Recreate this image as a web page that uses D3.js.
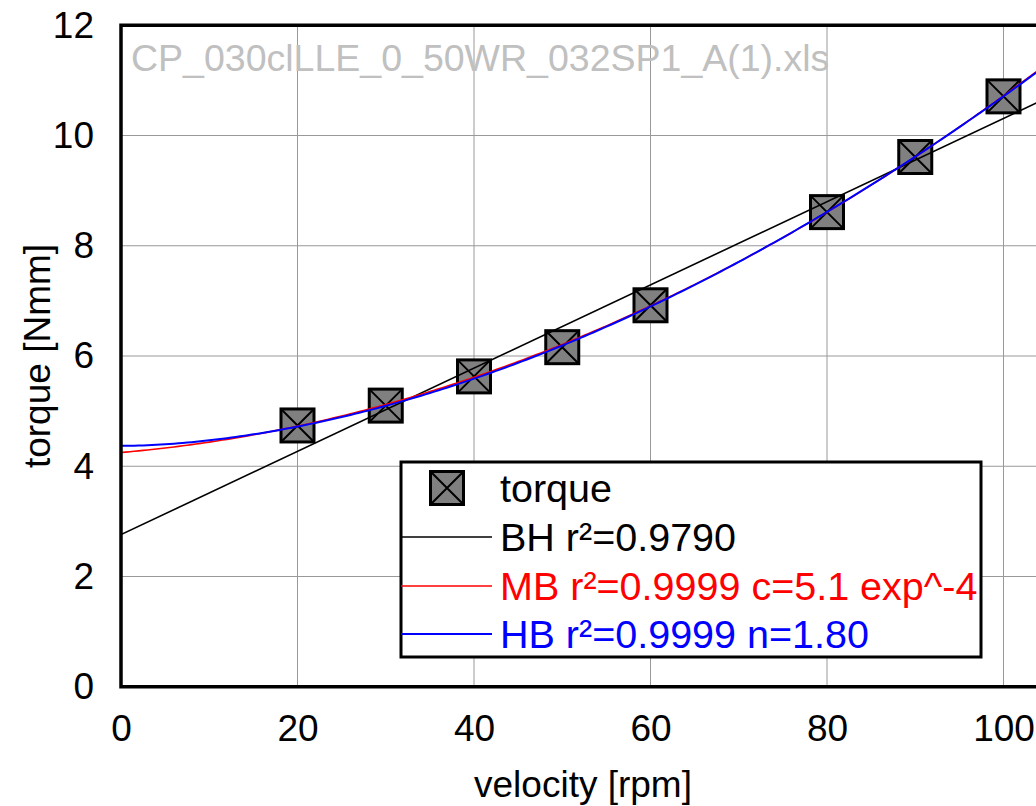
<!DOCTYPE html>
<html>
<head>
<meta charset="utf-8">
<script src="https://cdn.jsdelivr.net/npm/d3@7"></script>
<style>
  body { margin: 0; background: #fff; }
  svg { display: block; }
  text { font-family: "Liberation Sans", Arial, sans-serif; }
</style>
</head>
<body>
<svg id="chart" width="1036" height="806"></svg>
<script>
// measured torque against spindle velocity
const velocity = [20, 30, 40, 50, 60, 80, 90, 100];
const torque = [4.74, 5.10, 5.63, 6.16, 6.92, 8.61, 9.61, 10.71];

const xTicks = [0, 20, 40, 60, 80, 100];
const yTicks = [0, 2, 4, 6, 8, 10, 12];

const fileName = "CP_030clLLE_0_50WR_032SP1_A(1).xls";
const xTitle = "velocity [rpm]";
const yTitle = "torque [Nmm]";
const legendLabels = ["torque", "BH r²=0.9790", "MB r²=0.9999 c=5.1 exp^-4", "HB r²=0.9999 n=1.80"];
const legendColors = ["#000", "#000", "#ff0000", "#0000ff"];

// rheological fit parameters
const binghamFit = { tau0: 2.76, mu: 0.0755 };                 // Bingham: tau0 + mu*v
const modBinghamFit = { tau0: 4.25, mu: 0.0137, c: 5.1e-4 };   // modified Bingham: tau0 + mu*v + c*v^2
const herschelFit = { tau0: 4.37, k: 0.001593, n: 1.80 };      // Herschel-Bulkley: tau0 + k*v^n

const svg = d3.select("#chart");
const FONT = 37;
const LEGEND_FONT = 39.5;

const x = d3.scaleLinear().domain([0, 110]).range([121, 121 + 8.825 * 110]);
const y = d3.scaleLinear().domain([0, 12]).range([686.75, 686.75 - 55.125 * 12]);

const [x0, x1] = x.range();
const [yb, yt] = y.range();

svg.append("defs").append("clipPath").attr("id", "plotClip")
  .append("rect").attr("x", x0).attr("y", yt).attr("width", x1 - x0).attr("height", yb - yt);

// grid
const grid = svg.append("g").attr("stroke", "#999").attr("stroke-width", 1);
grid.selectAll("line.vx").data(xTicks.filter(d => d > 0)).join("line")
  .attr("x1", d => x(d)).attr("x2", d => x(d)).attr("y1", yt).attr("y2", yb);
grid.selectAll("line.hy").data(yTicks.filter(d => d > 0 && d < 12)).join("line")
  .attr("x1", x0).attr("x2", x1).attr("y1", d => y(d)).attr("y2", d => y(d));

// file name
svg.append("text").attr("x", 131).attr("y", 71)
  .attr("font-size", 37.5).attr("fill", "#c0c0c0").text(fileName);

// axes labels (no tick marks)
const xAxis = svg.append("g").attr("transform", `translate(0,${yb})`)
  .call(d3.axisBottom(x).tickValues(xTicks).tickSize(0).tickPadding(28).tickFormat(d3.format("d")));
const yAxis = svg.append("g").attr("transform", `translate(${x0},0)`)
  .call(d3.axisLeft(y).tickValues(yTicks).tickSize(0).tickPadding(27).tickFormat(d3.format("d")));
[xAxis, yAxis].forEach(a => {
  a.select(".domain").remove();
  a.selectAll("text").attr("font-size", FONT).attr("fill", "#000")
    .style("font-family", "'Liberation Sans', Arial, sans-serif");
});

svg.append("text").attr("x", 583).attr("y", 797).attr("text-anchor", "middle")
  .attr("font-size", FONT).attr("fill", "#000").text(xTitle);
svg.append("text").attr("transform", "translate(50,356) rotate(-90)").attr("text-anchor", "middle")
  .attr("font-size", FONT).attr("fill", "#000").text(yTitle);

// markers
const MS = 33;
function drawMarker(g, cx, cy) {
  g.append("rect").attr("x", cx - MS / 2).attr("y", cy - MS / 2).attr("width", MS).attr("height", MS)
    .attr("fill", "#808080").attr("stroke", "#000").attr("stroke-width", 3);
  g.append("path")
    .attr("d", `M${cx - MS / 2},${cy - MS / 2}L${cx + MS / 2},${cy + MS / 2}M${cx + MS / 2},${cy - MS / 2}L${cx - MS / 2},${cy + MS / 2}`)
    .attr("stroke", "#000").attr("stroke-width", 2).attr("fill", "none");
}
const plot = svg.append("g").attr("clip-path", "url(#plotClip)");
const markers = plot.append("g");
velocity.forEach((v, i) => drawMarker(markers, x(v), y(torque[i])));

// fit curves
const vs = d3.range(0, 110.01, 0.5);
const line = d3.line().x(d => x(d[0])).y(d => y(d[1]));
plot.append("path")
  .attr("d", line([0, 110].map(v => [v, binghamFit.tau0 + binghamFit.mu * v])))
  .attr("fill", "none").attr("stroke", "#000").attr("stroke-width", 1.6);
plot.append("path")
  .attr("d", line(vs.map(v => [v, modBinghamFit.tau0 + modBinghamFit.mu * v + modBinghamFit.c * v * v])))
  .attr("fill", "none").attr("stroke", "#ff0000").attr("stroke-width", 1.6);
plot.append("path")
  .attr("d", line(vs.map(v => [v, herschelFit.tau0 + herschelFit.k * Math.pow(v, herschelFit.n)])))
  .attr("fill", "none").attr("stroke", "#0000ff").attr("stroke-width", 2);

// frame
svg.append("rect").attr("x", x0).attr("y", yt).attr("width", x1 - x0).attr("height", yb - yt)
  .attr("fill", "none").attr("stroke", "#000").attr("stroke-width", 3.5);

// legend
const lg = svg.append("g");
const box = { x: 401, y: 462, w: 580, h: 195 };
lg.append("rect").attr("x", box.x).attr("y", box.y).attr("width", box.w).attr("height", box.h)
  .attr("fill", "#fff").attr("stroke", "#000").attr("stroke-width", 3);
const rowY = [488, 537, 586, 634];
drawMarker(lg, 447, rowY[0]);
legendColors.slice(1).forEach((c, i) => {
  lg.append("line").attr("x1", box.x).attr("x2", 492).attr("y1", rowY[i + 1]).attr("y2", rowY[i + 1])
    .attr("stroke", c).attr("stroke-width", i === 2 ? 2 : 1.6);
});
legendLabels.forEach((t, i) => {
  lg.append("text").attr("x", 500).attr("y", rowY[i] + 14).attr("font-size", LEGEND_FONT)
    .attr("fill", legendColors[i]).text(t);
});
</script>
</body>
</html>
